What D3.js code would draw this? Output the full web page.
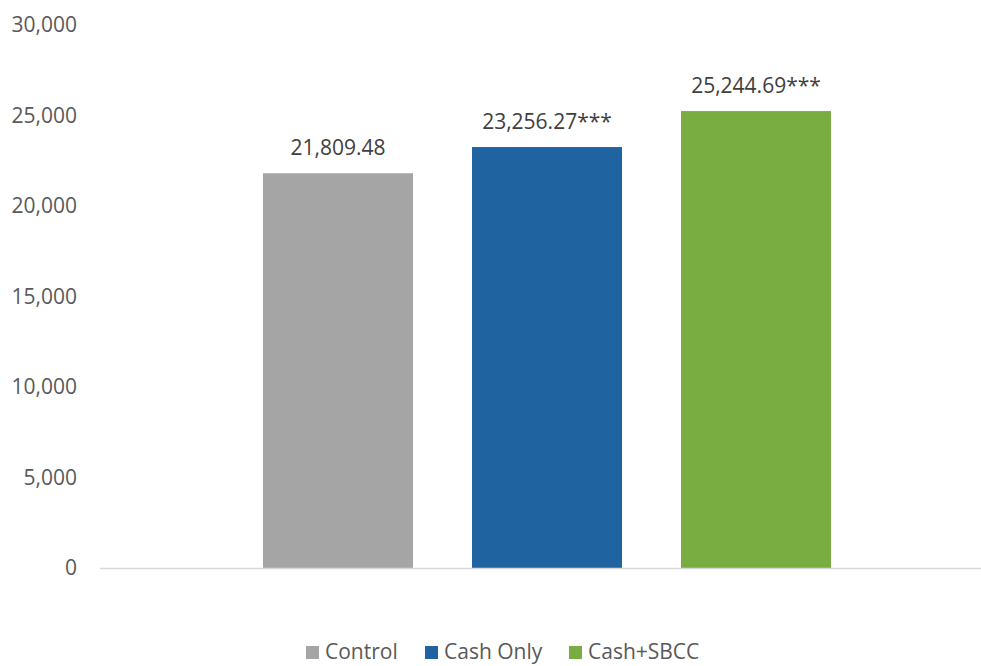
<!DOCTYPE html>
<html>
<head>
<meta charset="utf-8">
<script src="https://cdn.jsdelivr.net/npm/d3@7"></script>
<style>
  html, body { margin: 0; padding: 0; background: #fff; }
  svg { display: block; font-family: "Open Sans", "Noto Sans", sans-serif; }
</style>
</head>
<body>
<svg id="chart" width="981" height="666"></svg>
<script>
// Series shown as one bar each
const seriesNames = ["Control", "Cash Only", "Cash+SBCC"];
const seriesValues = [21809.48, 23256.27, 25244.69];
const valueLabels = ["21,809.48", "23,256.27***", "25,244.69***"];
const seriesColors = ["#A5A5A5", "#1F64A0", "#7AAD41"];
const yTicks = [0, 5000, 10000, 15000, 20000, 25000, 30000];

const svg = d3.select("#chart");
const textColor = "#595959";
const fontSize = 21;

const y = d3.scaleLinear().domain([0, 30000]).range([568, 25]);
const x = d3.scaleBand()
  .domain(seriesNames)
  .range([263, 831])
  .paddingInner(59 / 209)
  .paddingOuter(0);

// Y axis labels (no axis line, no gridlines)
const yAxis = d3.axisLeft(y)
  .tickValues(yTicks)
  .tickFormat(d3.format(","))
  .tickSize(0)
  .tickPadding(0);

const gy = svg.append("g").attr("transform", "translate(77,0)").call(yAxis);
gy.select(".domain").remove();
gy.selectAll("text")
  .attr("fill", textColor)
  .style("font-size", fontSize + "px")
  .style("font-family", "'Open Sans', 'Noto Sans', sans-serif");

// Bars
svg.append("g").selectAll("rect")
  .data(seriesNames)
  .join("rect")
  .attr("x", d => x(d))
  .attr("width", x.bandwidth())
  .attr("y", (d, i) => y(seriesValues[i]))
  .attr("height", (d, i) => y(0) - y(seriesValues[i]))
  .attr("fill", (d, i) => seriesColors[i]);

// Category baseline
svg.append("line")
  .attr("x1", 100).attr("x2", 981)
  .attr("y1", y(0) + 0.5).attr("y2", y(0) + 0.5)
  .attr("stroke", "#D9D9D9")
  .attr("stroke-width", 1.5);

// Value labels above bars
svg.append("g").selectAll("text")
  .data(seriesNames)
  .join("text")
  .attr("x", d => x(d) + x.bandwidth() / 2)
  .attr("y", (d, i) => y(seriesValues[i]) - 18)
  .attr("text-anchor", "middle")
  .attr("fill", "#404040")
  .style("font-size", fontSize + "px")
  .text((d, i) => valueLabels[i]);

// Legend
const legendItems = [
  { sx: 306, tx: 325 },
  { sx: 425, tx: 444 },
  { sx: 569, tx: 588 }
];
const legend = svg.append("g");
seriesNames.forEach((name, i) => {
  legend.append("rect")
    .attr("x", legendItems[i].sx)
    .attr("y", 646)
    .attr("width", 13)
    .attr("height", 13)
    .attr("fill", seriesColors[i]);
  legend.append("text")
    .attr("x", legendItems[i].tx)
    .attr("y", 659)
    .attr("fill", textColor)
    .style("font-size", fontSize + "px")
    .text(name);
});
</script>
</body>
</html>
